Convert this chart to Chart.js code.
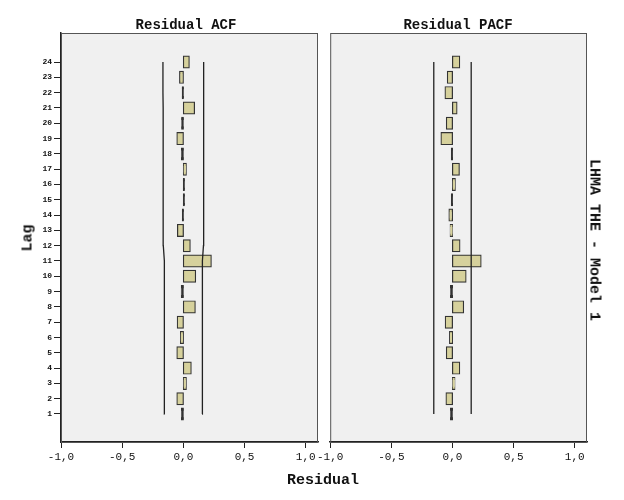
<!DOCTYPE html>
<html>
<head>
  <meta charset="UTF-8">
  <title>Residual ACF / PACF</title>
  <script src="https://cdn.jsdelivr.net/npm/chart.js"></script>
  <style>
    body { margin: 0; background: #fff; }
    #wrap { position: relative; width: 624px; height: 500px; font-family: "Liberation Mono", "DejaVu Sans Mono", monospace; }
    canvas { position: absolute; top: 0; }
    .lbl { position: absolute; font-weight: bold; font-size: 15px; line-height: 17px; color: #111; white-space: nowrap; }
    .ttl { font-size: 14px; line-height: 16px; }
  </style>
</head>
<body>
<div id="wrap">
  <canvas id="acfChart" width="320" height="500" style="left:0"></canvas>
  <canvas id="pacfChart" width="309" height="500" style="left:315px"></canvas>
  <div class="lbl ttl" style="left:186px; top:17px; transform:translateX(-50%)">Residual ACF</div>
  <div class="lbl ttl" style="left:458px; top:17px; transform:translateX(-50%)">Residual PACF</div>
  <div class="lbl" style="left:28px; top:238px; transform:translate(-50%,-50%) rotate(-90deg)">Lag</div>
  <div class="lbl" style="left:323px; top:472px; transform:translateX(-50%)">Residual</div>
  <div class="lbl" style="left:594px; top:240px; transform:translate(-50%,-50%) rotate(90deg)">LHMA THE - Model 1</div>
</div>

<script>
  const lags = [1, 2, 3, 4, 5, 6, 7, 8, 9, 10, 11, 12, 13, 14, 15, 16, 17, 18, 19, 20, 21, 22, 23, 24];
  const acf = [-0.012, -0.049, 0.02, 0.06, -0.049, -0.02, -0.046, 0.093, -0.013, 0.096, 0.224, 0.052,
               -0.044, -0.004, 0.004, 0.004, 0.02, -0.012, -0.049, -0.01, 0.087, -0.005, -0.027, 0.044];
  const pacf = [-0.012, -0.049, 0.016, 0.055, -0.046, -0.02, -0.055, 0.087, -0.012, 0.107, 0.23, 0.057,
                -0.015, -0.025, -0.005, 0.019, 0.052, -0.005, -0.09, -0.046, 0.033, -0.057, -0.038, 0.055];
  const acfLimit = [0.153, 0.153, 0.154, 0.154, 0.155, 0.155, 0.156, 0.156, 0.157, 0.157, 0.157, 0.164,
                    0.164, 0.165, 0.165, 0.165, 0.165, 0.165, 0.166, 0.166, 0.166, 0.167, 0.167, 0.167];
  const pacfLimit = [0.153, 0.153, 0.153, 0.153, 0.153, 0.153, 0.153, 0.153, 0.153, 0.153, 0.153, 0.153,
                     0.153, 0.153, 0.153, 0.153, 0.153, 0.153, 0.153, 0.153, 0.153, 0.153, 0.153, 0.153];
  const xTicks = [-1, -0.5, 0, 0.5, 1];

  const monoFont = '"Liberation Mono", "DejaVu Sans Mono", monospace';

  // grey plot background + frame
  const panelBg = {
    id: 'panelBg',
    beforeDraw(chart) {
      const a = chart.chartArea, ctx = chart.ctx;
      ctx.save();
      ctx.fillStyle = '#f0f0f0';
      ctx.fillRect(a.left, a.top, a.right - a.left, a.bottom - a.top);
      ctx.restore();
    },
    afterDraw(chart) {
      const a = chart.chartArea, ctx = chart.ctx;
      ctx.save();
      ctx.strokeStyle = '#555';
      ctx.lineWidth = 1;
      ctx.strokeRect(a.left + 0.5, a.top + 0.5, a.right - a.left - 1, a.bottom - a.top);
      ctx.restore();
    }
  };

  function makeChart(id, values, limits, showY, pad) {
    const pts = lags.map((l, i) => ({ x: values[i], y: l }));
    const up = lags.map((l, i) => ({ x: limits[i], y: l }));
    const lo = lags.map((l, i) => ({ x: -limits[i], y: l }));
    return new Chart(document.getElementById(id).getContext('2d'), {
      type: 'bar',
      data: {
        datasets: [
          {
            type: 'line', data: up, borderColor: '#222', borderWidth: 1.3,
            pointRadius: 0, fill: false, tension: 0
          },
          {
            type: 'line', data: lo, borderColor: '#222', borderWidth: 1.3,
            pointRadius: 0, fill: false, tension: 0
          },
          {
            data: pts,
            // very short bars show only their dark outline
            backgroundColor: c => Math.abs(c.raw.x) < 0.015 ? '#333' : '#d6d19c',
            borderColor: '#333',
            borderWidth: 1.2, barThickness: 11, borderSkipped: false, inflateAmount: 1
          }
        ]
      },
      options: {
        indexAxis: 'y',
        responsive: false,
        animation: false,
        layout: { padding: pad },
        plugins: { legend: { display: false }, tooltip: { enabled: false } },
        scales: {
          x: {
            type: 'linear', min: -1, max: 1.1,
            afterBuildTicks: s => { s.ticks = xTicks.map(v => ({ value: v })); },
            afterFit: s => { s.height = 20; },
            border: { color: '#222', width: 1.5 },
            grid: { drawOnChartArea: false, drawTicks: true, tickLength: 6, color: '#222' },
            ticks: {
              padding: 2, color: '#111', maxRotation: 0,
              font: { family: monoFont, size: 11 },
              callback: v => v.toFixed(1).replace('.', ',')
            }
          },
          y: {
            type: 'linear', min: -0.83, max: 25.9, display: showY, offset: false,
            afterBuildTicks: s => { s.ticks = lags.map(v => ({ value: v })); },
            afterFit: s => { s.width = showY ? 61 : 0; },
            border: { color: '#222', width: 1.5 },
            grid: { offset: false, drawOnChartArea: false, drawTicks: true, tickLength: 7, color: '#222' },
            ticks: {
              padding: 2, color: '#111', autoSkip: false,
              font: { family: monoFont, size: 8, weight: 'bold' }
            }
          }
        }
      },
      plugins: [panelBg]
    });
  }

  makeChart('acfChart', acf, acfLimit, true, { top: 33, bottom: 38, left: 0, right: 2 });
  makeChart('pacfChart', pacf, pacfLimit, false, { top: 33, bottom: 38, left: 15, right: 37 });
</script>
</body>
</html>
